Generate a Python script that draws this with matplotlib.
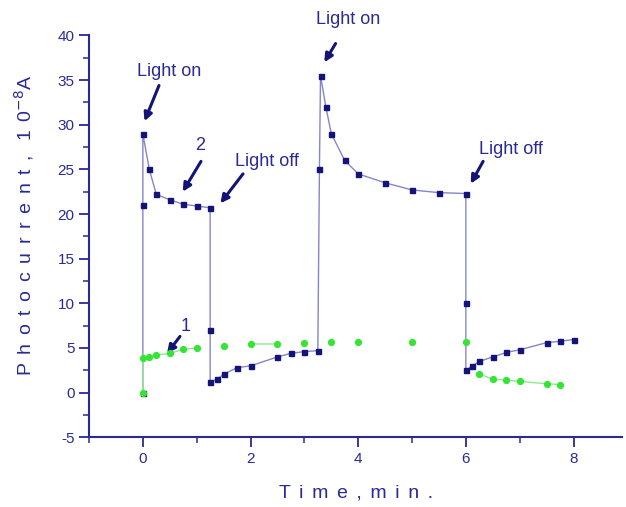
import numpy as np
import matplotlib
matplotlib.use("Agg")
import matplotlib.pyplot as plt
from matplotlib.ticker import MultipleLocator

plt.rcParams["axes.unicode_minus"] = False

# Curve 2 (dark squares)
t2 = [0, 0, 0, 0.12, 0.25, 0.5, 0.75, 1.0, 1.25,
      1.25, 1.25, 1.38, 1.5, 1.75, 2.0, 2.5, 2.75, 3.0, 3.25,
      3.28, 3.3, 3.4, 3.5, 3.75, 4.0, 4.5, 5.0, 5.5, 6.0,
      6.0, 6.0, 6.12, 6.25, 6.5, 6.75, 7.0, 7.5, 7.75, 8.0]
i2 = [0, 21, 29, 25, 22.2, 21.6, 21.1, 20.9, 20.7,
      7.0, 1.2, 1.5, 2.05, 2.8, 3.0, 4.0, 4.4, 4.6, 4.7,
      25, 35.5, 32, 29, 26, 24.5, 23.5, 22.7, 22.4, 22.3,
      10, 2.5, 3.0, 3.5, 4.0, 4.5, 4.8, 5.6, 5.75, 5.95]

# Curve 1 (green circles)
t1 = [0, 0, 0.12, 0.25, 0.5, 0.75, 1.0, 1.5, 2.0, 2.5, 3.0, 3.5, 4.0, 5.0, 6.0,
      6.25, 6.5, 6.75, 7.0, 7.5, 7.75]
i1 = [0, 3.85, 3.95, 4.2, 4.4, 4.85, 5.0, 5.2, 5.45, 5.45, 5.6, 5.7, 5.7, 5.7, 5.7,
      2.1, 1.5, 1.4, 1.25, 1.0, 0.9]
# indices after which the faint green line is not visible
green_gaps = [6, 7, 9, 10, 11, 12, 13, 14]

xticks = [0, 2, 4, 6, 8]
yticks = [-5, 0, 5, 10, 15, 20, 25, 30, 35, 40]

navy = "#2a2a96"
mark_navy = "#141478"
line_blue = "#8585cc"
green = "#33e633"
green_line = "#8fe88f"

gap = " \u2006"
xlab = gap.join(list("Time,")) + gap + gap.join(list("min."))
ylab = gap.join(list("Photocurrent,")) + gap + " " + "1" + gap + "0$^{-8}$A"

fig = plt.figure(figsize=(6.26, 5.07), dpi=100)
ax = fig.add_axes([0.1422, 0.1375, 0.8514, 0.7925])

ax.plot(t2, i2, color=line_blue, lw=1.0, zorder=2)
ax.plot(t2, i2, ls="none", marker="s", ms=3.6, color=mark_navy, zorder=3)

gx, gy = [], []
for k in range(len(t1)):
    gx.append(t1[k]); gy.append(i1[k])
    if k in green_gaps:
        gx.append(np.nan); gy.append(np.nan)
ax.plot(gx, gy, color=green_line, lw=1.0, zorder=4)
ax.plot(t1, i1, ls="none", marker="o", ms=4.2, color=green, zorder=5)

ax.set_xlim(-1, 8.9)
ax.set_ylim(-5, 40)
ax.set_xticks(xticks)
ax.set_yticks(yticks)
ax.xaxis.set_minor_locator(MultipleLocator(1))
ax.yaxis.set_minor_locator(MultipleLocator(2.5))
for s in ["top", "right"]:
    ax.spines[s].set_visible(False)
for s in ["left", "bottom"]:
    ax.spines[s].set_color(navy)
    ax.spines[s].set_linewidth(1.5)
ax.tick_params(which="major", direction="out", length=7, width=1.3, color=navy,
               labelcolor=navy, labelsize=11, labelfontfamily="Liberation Sans")
ax.tick_params(which="minor", direction="out", length=4, width=1.1, color=navy)

fam = ["Liberation Sans", "DejaVu Sans"]
ax.set_xlabel(xlab, fontsize=14, color=navy, family=fam, va="top")
ax.xaxis.set_label_coords(0.501, -0.117)
ax.set_ylabel(ylab, fontsize=14, color=navy, family=fam)
ax.yaxis.set_label_coords(-0.0994, 0.527)

notes = [
    ("Light on", (0.49, 36.0), (0.30, 34.4), (0.03, 30.4)),
    ("2", (1.06, 27.7), (1.08, 25.9), (0.74, 22.5)),
    ("Light off", (2.31, 25.9), (1.86, 24.5), (1.44, 21.2)),
    ("Light on", (3.82, 41.8), (3.58, 39.1), (3.37, 37.0)),
    ("Light off", (6.84, 27.2), (6.32, 25.9), (6.09, 23.4)),
    ("1", (0.80, 7.4), (0.69, 6.3), (0.45, 4.4)),
]
for txt, tpos, tail, head in notes:
    ax.text(tpos[0], tpos[1], txt, ha="center", va="center", fontsize=13,
            color=navy, family="Liberation Sans", clip_on=False)
    ax.annotate("", xy=head, xytext=tail, annotation_clip=False,
                arrowprops=dict(arrowstyle="-|>", lw=2.2, color=mark_navy,
                                mutation_scale=12, shrinkA=0, shrinkB=0))

fig.savefig("out.png", dpi=100)
